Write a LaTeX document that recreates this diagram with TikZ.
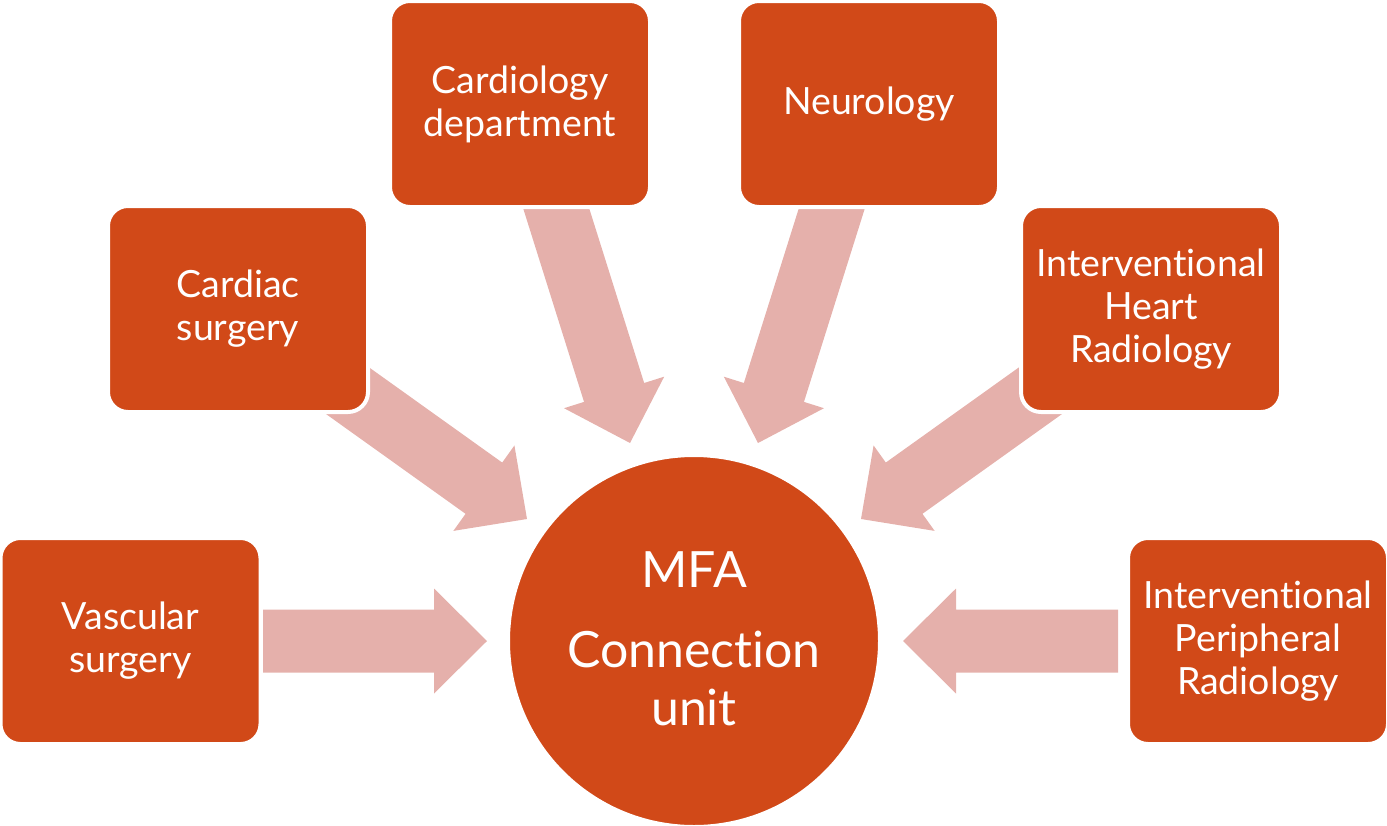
\documentclass[tikz,border=0pt]{standalone}
\usepackage{fontspec}
\setmainfont{Lato}[Ligatures={NoCommon}]
\usetikzlibrary{calc}
\definecolor{boxfill}{RGB}{209,73,24}
\definecolor{arrfill}{RGB}{229,176,171}
\newcommand\blockarr[2]{%
  \path (#2) coordinate (tp) ($(tp)!53pt!(#1)$) coordinate (hb);
  \fill[arrfill] ($(#1)!31.5pt!90:(tp)$) -- ($(hb)!31.5pt!90:(tp)$) -- ($(hb)!52.5pt!90:(tp)$) -- (tp)
     -- ($(hb)!52.5pt!-90:(tp)$) -- ($(hb)!31.5pt!-90:(tp)$) -- ($(#1)!31.5pt!-90:(tp)$) -- cycle;
}
\begin{document}
\begin{tikzpicture}[x=1pt,y=-1pt,
  dept/.style={draw=white, line width=4pt, fill=boxfill, rounded corners=20pt,
    minimum width=260pt, minimum height=206pt, inner sep=0pt, text=white,
    align=center, font=\fontsize{37.5}{43}\selectfont},
  hub/.style={circle, fill=boxfill, draw=white, line width=3pt, minimum size=371pt, inner sep=0pt},
  hubtext/.style={text=white, anchor=base, inner sep=0pt, font=\fontsize{50}{58}\selectfont}]
\useasboundingbox (0,0) rectangle (1387,825);
% arrow end points
\coordinate (tVas) at (263,641);   \coordinate (pVas) at (487,641);
\coordinate (tPer) at (1118,641);  \coordinate (pPer) at (903,641);
\coordinate (tCar) at (299,356);   \coordinate (pCar) at (527,519);
\coordinate (tHea) at (1089,356);  \coordinate (pHea) at (861,519);
\coordinate (tDep) at (546,176);   \coordinate (pDep) at (630,443);
\coordinate (tNeu) at (842,176);   \coordinate (pNeu) at (758,443);
\blockarr{tVas}{pVas}
\blockarr{tPer}{pPer}
\blockarr{tCar}{pCar}
\blockarr{tHea}{pHea}
\blockarr{tDep}{pDep}
\blockarr{tNeu}{pNeu}
% boxes
\node[dept] (vas) at (130.5,641) {Vascular\\surgery};
\node[dept] (car) at (238,309) {Cardiac\\surgery};
\node[dept] (dep) at (520,104) {Cardiology\\department};
\node[dept] (neu) at (869,104) {Neurology};
\node[dept] (hea) at (1151,309) {Interventional\\Heart\\Radiology};
\node[dept] (per) at (1258,641) {Interventional\\Peripheral\\Radiology};
% hub
\node[hub] (mfa) at (694,641) {};
\node[hubtext] (mfa1) at (694,587) {MFA};
\node[hubtext] (mfa2) at (694,667) {Connection};
\node[hubtext] (mfa3) at (694,725) {unit};
\end{tikzpicture}
\end{document}
